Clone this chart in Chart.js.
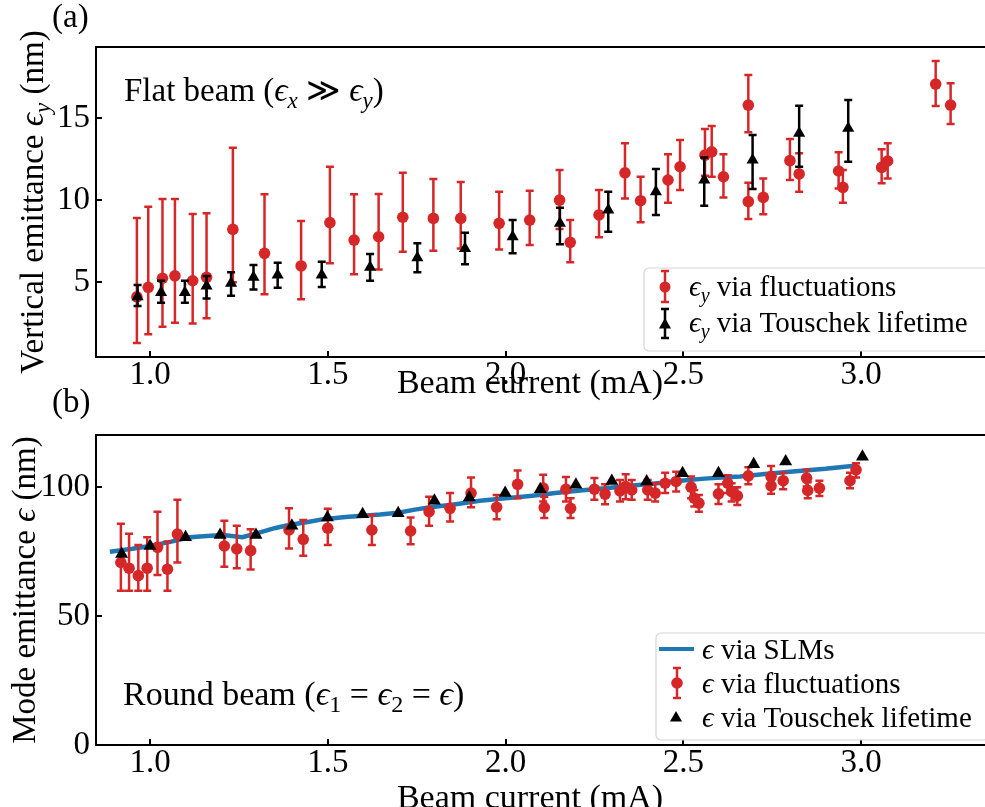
<!DOCTYPE html>
<html><head><meta charset="utf-8">
<script src="https://cdn.jsdelivr.net/npm/chart.js@4.4.1/dist/chart.umd.min.js"></script>
<style>
html,body{margin:0;padding:0;overflow:hidden;background:#fff;width:985px;height:807px}
#wrap{position:relative;width:985px;height:807px;overflow:hidden;background:#fff}
canvas{position:absolute;left:0}
</style></head><body>
<div id="wrap">
<canvas id="c1" width="1000" height="430" style="top:0px"></canvas>
<canvas id="c2" width="1000" height="407" style="top:400px"></canvas>
</div>
<script>
// ---------- data ----------
const xTicks = [1.0, 1.5, 2.0, 2.5, 3.0];
const yTicksFlat = [5, 10, 15];
const yTicksRound = [0, 50, 100];

// (a) flat beam: emittance via fluctuations
const flatFluctX  = [0.963,0.995,1.035,1.070,1.120,1.159,1.233,1.322,1.425,1.506,1.574,1.643,1.711,1.797,1.874,1.982,2.068,2.152,2.182,2.263,2.336,2.380,2.457,2.491,2.561,2.580,2.613,2.683,2.683,2.725,2.800,2.826,2.937,2.949,3.058,3.075,3.210,3.252];
const flatFluctY  = [4.10,4.68,5.23,5.38,5.08,5.29,8.21,6.75,5.98,8.62,7.56,7.76,8.95,8.88,8.88,8.58,8.78,10.00,7.42,9.09,11.66,9.96,11.22,12.03,12.74,12.94,11.42,15.79,9.90,10.16,12.40,11.59,11.77,10.77,11.99,12.38,17.07,15.79];
const flatFluctLo = [1.28,1.81,2.27,2.52,2.48,2.79,4.98,4.25,3.95,6.14,5.47,5.77,6.85,6.91,7.05,6.99,7.26,8.23,6.20,7.73,10.10,8.64,9.84,10.61,11.48,11.42,10.16,14.13,8.84,9.13,11.22,10.51,10.71,9.84,11.02,11.32,15.73,14.63];
const flatFluctHi = [8.90,9.59,10.06,10.06,9.15,9.19,13.19,10.35,8.72,12.03,10.35,10.37,11.66,11.28,11.10,10.51,10.57,11.83,8.78,10.61,13.46,11.42,12.79,13.66,14.33,14.51,12.79,17.62,11.05,11.32,13.72,12.85,12.91,11.83,13.09,13.46,18.48,17.12];

// (a) flat beam: emittance via Touschek lifetime
const flatTouX  = [0.965,1.031,1.098,1.159,1.228,1.291,1.359,1.483,1.619,1.752,1.886,2.020,2.153,2.289,2.423,2.559,2.695,2.826,2.964];
const flatTouY  = [4.10,4.37,4.37,4.76,4.92,5.29,5.43,5.43,5.90,6.48,7.05,7.76,8.58,9.39,10.51,11.22,12.44,14.07,14.37];
const flatTouLo = [3.54,3.74,3.74,4.00,4.16,4.55,4.65,4.70,5.08,5.59,6.08,6.75,7.30,8.07,9.09,9.65,10.67,12.03,12.34];
const flatTouHi = [4.82,5.08,5.08,5.37,5.59,6.04,6.18,6.24,6.71,7.36,8.01,8.78,9.53,10.51,11.89,12.60,13.96,15.75,16.10];

// (b) round beam: emittance via SLMs
const roundSlmX = [0.887,0.95,1.0,1.06,1.112,1.16,1.206,1.26,1.30,1.35,1.394,1.44,1.488,1.55,1.60,1.647,1.698,1.745,1.788,1.86,1.928,2.0,2.069,2.14,2.21,2.28,2.35,2.42,2.491,2.56,2.62,2.66,2.73,2.80,2.90,2.988];
const roundSlmY = [74.9,76.0,77.1,78.8,80.5,81.0,81.4,80.5,82.0,84.0,85.3,86.3,87.5,88.3,88.8,89.3,90.0,91.2,92.1,93.3,94.6,95.6,96.5,97.6,98.6,99.5,100.4,101.3,102.4,103.2,103.7,104.0,105.0,105.9,107.0,108.3];

// (b) round beam: emittance via fluctuations
const roundFluctX  = [0.918,0.941,0.967,0.992,1.021,1.049,1.077,1.209,1.244,1.283,1.391,1.431,1.500,1.624,1.733,1.785,1.844,1.903,1.975,2.034,2.106,2.109,2.170,2.183,2.250,2.280,2.322,2.338,2.355,2.400,2.421,2.449,2.480,2.522,2.531,2.544,2.599,2.625,2.636,2.652,2.683,2.747,2.747,2.781,2.847,2.850,2.883,2.969,2.986];
const roundFluctY  = [70.7,68.5,65.6,68.5,76.6,68.1,81.7,77.1,76.0,75.3,83.3,79.7,84.0,83.3,82.9,90.4,91.7,97.6,92.1,101.0,99.5,92.0,99.1,91.7,99.1,97.2,98.4,100.1,98.8,98.8,97.6,101.4,102.1,99.9,95.6,93.7,97.3,101.4,98.2,96.5,104.3,104.0,100.4,102.4,103.4,98.6,99.5,102.4,106.6];
const roundFluctLo = [59.8,59.8,59.8,59.8,65.9,59.8,70.7,69.1,68.5,68.0,76.1,73.3,77.5,77.5,77.8,84.9,86.6,92.1,87.5,95.6,94.3,87.9,94.3,87.9,95.0,93.3,94.3,95.2,95.0,95.0,94.3,97.6,98.2,95.6,92.4,90.4,93.4,97.6,94.3,93.0,101.0,100.5,97.3,99.1,100.1,95.6,96.5,99.5,103.6];
const roundFluctHi = [85.7,81.8,77.5,80.5,90.4,78.8,95.0,86.9,84.9,83.6,91.7,87.2,91.5,89.1,88.1,96.2,97.6,103.6,96.9,106.3,104.7,96.2,103.8,95.6,103.4,101.0,102.7,104.9,102.7,102.7,101.4,105.5,105.9,104.0,98.8,96.9,101.0,104.5,101.4,99.9,107.6,108.1,104.0,105.5,106.6,101.8,102.4,105.5,109.2];

// (b) round beam: emittance via Touschek lifetime
const roundTouX = [0.920,1.000,1.100,1.197,1.298,1.399,1.499,1.598,1.698,1.800,1.898,1.999,2.098,2.198,2.299,2.397,2.498,2.599,2.698,2.788,3.004];
const roundTouY = [74.0,77.1,80.5,81.4,81.4,84.9,88.1,89.4,89.8,94.6,95.9,97.6,99.1,100.8,102.3,102.1,105.3,105.3,108.8,109.8,111.7];

// ---------- styling ----------
const RED = '#d62728', BLUE = '#1f77b4', BLACK = '#000000';
const FF = "'Liberation Serif','DejaVu Serif',serif";

function pts(xs, ys){ return xs.map((x,i)=>({x:x, y:ys[i]})); }

function drawRich(ctx, parts, x, y, size, align){
  const fonts = parts.map(p => {
    const sub = p[1] === 's' || p[1] === 'S';
    const it = p[1] === 'i' || p[1] === 's';
    return (it ? 'italic ' : '') + (sub ? Math.round(size*0.7) : size) + 'px ' + FF;
  });
  let w = 0;
  parts.forEach((p,i)=>{ ctx.font = fonts[i]; w += ctx.measureText(p[0]).width; });
  let cx = align === 'center' ? x - w/2 : x;
  parts.forEach((p,i)=>{
    ctx.font = fonts[i];
    const sub = p[1] === 's' || p[1] === 'S';
    ctx.fillText(p[0], cx, y + (sub ? size*0.22 : 0));
    cx += ctx.measureText(p[0]).width;
  });
}

function errBar(ctx, x, y1, y2, color, lw, cap){
  ctx.strokeStyle = color; ctx.lineWidth = lw;
  ctx.beginPath();
  ctx.moveTo(x, y1); ctx.lineTo(x, y2);
  ctx.moveTo(x-cap, y1); ctx.lineTo(x+cap, y1);
  ctx.moveTo(x-cap, y2); ctx.lineTo(x+cap, y2);
  ctx.stroke();
}

const errorBarPlugin = {
  id: 'errbars',
  beforeDatasetDraw(chart, args){
    const ds = chart.data.datasets[args.index];
    if (!ds.errLo) return;
    const ctx = chart.ctx, xs = chart.scales.x, ys = chart.scales.y, a = chart.chartArea;
    ctx.save();
    ctx.beginPath(); ctx.rect(a.left, a.top, a.right-a.left, a.bottom-a.top); ctx.clip();
    ds.data.forEach((p,i)=>{
      const px = xs.getPixelForValue(p.x);
      errBar(ctx, px, ys.getPixelForValue(ds.errLo[i]), ys.getPixelForValue(ds.errHi[i]), ds.errColor, 2.5, 4);
    });
    ctx.restore();
  }
};

function frameTickPlugin(extra){
  return {
    id: 'frameTicks',
    afterDraw(chart){
      const ctx = chart.ctx, a = chart.chartArea, xs = chart.scales.x, ys = chart.scales.y;
      ctx.save();
      ctx.strokeStyle = '#000'; ctx.lineWidth = 2;
      ctx.strokeRect(a.left, a.top, a.right-a.left, a.bottom-a.top);
      ctx.beginPath();
      xs.ticks.forEach(t => { const p = Math.round(xs.getPixelForValue(t.value)); ctx.moveTo(p, a.bottom); ctx.lineTo(p, a.bottom-6); });
      ys.ticks.forEach(t => { const p = Math.round(ys.getPixelForValue(t.value)); ctx.moveTo(a.left, p); ctx.lineTo(a.left+6, p); });
      ctx.stroke();
      ctx.restore();
      if (extra) extra(ctx, chart);
    }
  };
}

function legendBox(ctx, x, y, w, h){
  const r = 5;
  ctx.save();
  ctx.fillStyle = 'rgba(255,255,255,0.8)';
  ctx.strokeStyle = '#d6d6d6'; ctx.lineWidth = 1.2;
  ctx.beginPath();
  ctx.moveTo(x+r, y); ctx.lineTo(x+w-r, y); ctx.arcTo(x+w, y, x+w, y+r, r);
  ctx.lineTo(x+w, y+h-r); ctx.arcTo(x+w, y+h, x+w-r, y+h, r);
  ctx.lineTo(x+r, y+h); ctx.arcTo(x, y+h, x, y+h-r, r);
  ctx.lineTo(x, y+r); ctx.arcTo(x, y, x+r, y, r);
  ctx.closePath(); ctx.fill(); ctx.stroke();
  ctx.restore();
}
function circle(ctx, x, y, r, c){ ctx.fillStyle = c; ctx.beginPath(); ctx.arc(x, y, r, 0, Math.PI*2); ctx.fill(); }
function tri(ctx, x, y, r, c){
  ctx.fillStyle = c; ctx.beginPath();
  ctx.moveTo(x, y - r); ctx.lineTo(x + r*0.866, y + r*0.5); ctx.lineTo(x - r*0.866, y + r*0.5);
  ctx.closePath(); ctx.fill();
}

function axisTitles(ctx, yParts, yTitleX, yTitleY, xTitleY){
  ctx.save();
  ctx.fillStyle = '#000'; ctx.textBaseline = 'alphabetic'; ctx.textAlign = 'left';
  drawRich(ctx, [['Beam current (mA)','']], 530, xTitleY, 34, 'center');
  ctx.translate(yTitleX, yTitleY); ctx.rotate(-Math.PI/2);
  drawRich(ctx, yParts, 0, 0, 33, 'center');
  ctx.restore();
}

function baseOptions(yMin, yMax, yTicks, xAxisH, topPad){
  return {
    responsive: false, animation: false, devicePixelRatio: 1,
    layout: { padding: { left: 0, top: topPad, right: 11, bottom: 0 } },
    plugins: { legend: { display: false }, tooltip: { enabled: false } },
    scales: {
      x: {
        type: 'linear', min: 0.848, max: 3.36,
        grid: { display: false, drawTicks: false }, border: { display: false },
        afterBuildTicks: s => { s.ticks = xTicks.map(v => ({ value: v })); },
        afterFit: s => { s.height = xAxisH; },
        ticks: { autoSkip: false, maxRotation: 0, padding: -1, color: '#000',
                 font: { family: FF, size: 33 }, callback: v => Number(v).toFixed(1) }
      },
      y: {
        type: 'linear', min: yMin, max: yMax,
        grid: { display: false, drawTicks: false }, border: { display: false },
        afterBuildTicks: s => { s.ticks = yTicks.map(v => ({ value: v })); },
        afterFit: s => { s.width = 96; },
        ticks: { autoSkip: false, padding: 6, color: '#000', font: { family: FF, size: 33 },
                 callback: v => String(v) }
      }
    }
  };
}

// ---------- chart (a) ----------
const extraA = (ctx) => {
  ctx.save(); ctx.fillStyle = '#000'; ctx.textBaseline = 'alphabetic';
  drawRich(ctx, [['Flat beam (',''],['ϵ','i'],['x','s'],[' ≫ ',''],['ϵ','i'],['y','s'],[')','']], 124, 101, 33, 'left');
  drawRich(ctx, [['(a)','']], 52, 27, 33, 'left');
  drawRich(ctx, [['(b)','']], 52, 412, 33, 'left');
  ctx.restore();
  axisTitles(ctx, [['Vertical emittance ',''],['ϵ','i'],['y','s'],[' (nm)','']], 43, 202, 393);
  legendBox(ctx, 644, 268, 345, 83);
  ctx.save();
  errBar(ctx, 665, 271, 302, RED, 2.5, 4); circle(ctx, 665, 287, 5.5, RED);
  errBar(ctx, 665, 309, 338, BLACK, 2.5, 4); tri(ctx, 665, 325, 7, BLACK);
  ctx.fillStyle = '#000'; ctx.textBaseline = 'alphabetic';
  drawRich(ctx, [['ϵ','i'],['y','s'],[' via fluctuations','']], 689, 296, 29, 'left');
  drawRich(ctx, [['ϵ','i'],['y','s'],[' via Touschek lifetime','']], 689, 332, 29, 'left');
  ctx.restore();
};

new Chart(document.getElementById('c1'), {
  type: 'scatter',
  data: { datasets: [
    { label: 'ϵy via Touschek lifetime', data: pts(flatTouX, flatTouY), errLo: flatTouLo, errHi: flatTouHi, errColor: BLACK,
      pointStyle: 'triangle', pointRadius: 7, backgroundColor: BLACK, borderColor: BLACK, borderWidth: 0, order: 0 },
    { label: 'ϵy via fluctuations', data: pts(flatFluctX, flatFluctY), errLo: flatFluctLo, errHi: flatFluctHi, errColor: RED,
      pointStyle: 'circle', pointRadius: 5.8, backgroundColor: RED, borderColor: RED, borderWidth: 0, order: 1 }
  ]},
  options: baseOptions(0.43, 19.33, yTicksFlat, 73, 47),
  plugins: [errorBarPlugin, frameTickPlugin(extraA)]
});

// ---------- chart (b) ----------
const extraB = (ctx) => {
  ctx.save(); ctx.fillStyle = '#000'; ctx.textBaseline = 'alphabetic';
  drawRich(ctx, [['Round beam (',''],['ϵ','i'],['1','S'],[' = ',''],['ϵ','i'],['2','S'],[' = ',''],['ϵ','i'],[')','']], 123, 305, 34, 'left');
  ctx.restore();
  axisTitles(ctx, [['Mode emittance ',''],['ϵ','i'],[' (nm)','']], 35, 190, 408);
  legendBox(ctx, 656, 233, 333, 107);
  ctx.save();
  ctx.strokeStyle = BLUE; ctx.lineWidth = 4; ctx.beginPath(); ctx.moveTo(659, 249); ctx.lineTo(694, 249); ctx.stroke();
  errBar(ctx, 677, 268, 298, RED, 2.5, 4); circle(ctx, 677, 283, 5.8, RED);
  tri(ctx, 676, 318, 7, BLACK);
  ctx.fillStyle = '#000'; ctx.textBaseline = 'alphabetic';
  drawRich(ctx, [['ϵ','i'],[' via SLMs','']], 702, 259, 29, 'left');
  drawRich(ctx, [['ϵ','i'],[' via fluctuations','']], 702, 293, 29, 'left');
  drawRich(ctx, [['ϵ','i'],[' via Touschek lifetime','']], 702, 327, 29, 'left');
  ctx.restore();
};

new Chart(document.getElementById('c2'), {
  type: 'scatter',
  data: { datasets: [
    { label: 'ϵ via Touschek lifetime', data: pts(roundTouX, roundTouY),
      pointStyle: 'triangle', pointRadius: 7.5, backgroundColor: BLACK, borderColor: BLACK, borderWidth: 0, order: 0 },
    { label: 'ϵ via fluctuations', data: pts(roundFluctX, roundFluctY), errLo: roundFluctLo, errHi: roundFluctHi, errColor: RED,
      pointStyle: 'circle', pointRadius: 5.8, backgroundColor: RED, borderColor: RED, borderWidth: 0, order: 1 },
    { type: 'line', label: 'ϵ via SLMs', data: pts(roundSlmX, roundSlmY), showLine: true, borderColor: BLUE,
      borderWidth: 4.5, pointRadius: 0, fill: false, tension: 0, order: 2 }
  ]},
  options: baseOptions(0, 120.1, yTicksRound, 62, 35),
  plugins: [errorBarPlugin, frameTickPlugin(extraB)]
});
</script>
</body></html>
